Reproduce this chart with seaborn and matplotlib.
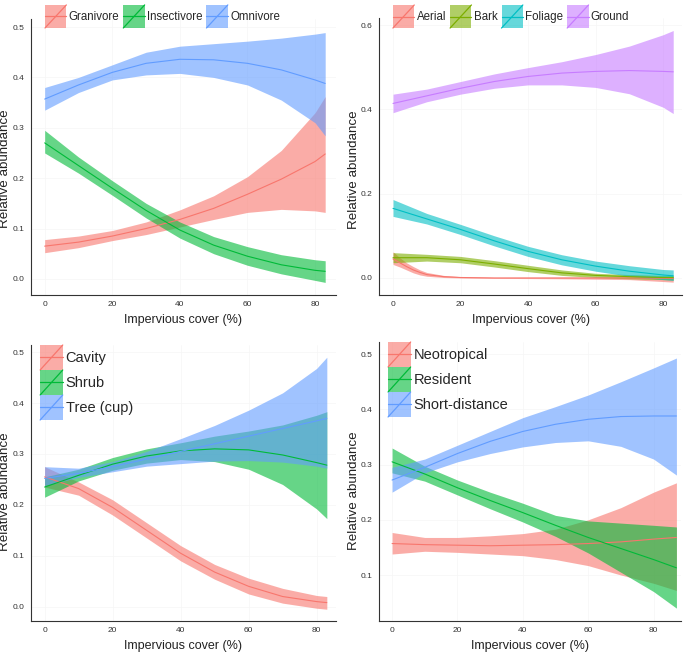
import numpy as np
import pandas as pd
import matplotlib.pyplot as plt
import seaborn as sns
from matplotlib.legend_handler import HandlerBase
from matplotlib.lines import Line2D
from matplotlib.patches import Rectangle

# ---- data: fitted line + confidence band ----
x1 = [0, 10, 20, 30, 40, 50, 60, 70, 80, 83]
gran_mid = [0.065, 0.073, 0.085, 0.100, 0.118, 0.140, 0.168, 0.198, 0.233, 0.248]
gran_lo = [0.052, 0.062, 0.076, 0.088, 0.103, 0.118, 0.132, 0.138, 0.135, 0.132]
gran_hi = [0.078, 0.085, 0.096, 0.113, 0.137, 0.165, 0.203, 0.255, 0.330, 0.362]
ins_mid = [0.270, 0.225, 0.180, 0.136, 0.097, 0.067, 0.045, 0.028, 0.017, 0.015]
ins_lo = [0.250, 0.210, 0.166, 0.121, 0.081, 0.050, 0.027, 0.010, -0.003, -0.007]
ins_hi = [0.295, 0.242, 0.195, 0.150, 0.113, 0.084, 0.064, 0.048, 0.038, 0.036]
omni_mid = [0.357, 0.385, 0.410, 0.428, 0.436, 0.435, 0.428, 0.415, 0.395, 0.388]
omni_lo = [0.335, 0.370, 0.395, 0.405, 0.408, 0.400, 0.385, 0.355, 0.310, 0.284]
omni_hi = [0.380, 0.400, 0.425, 0.450, 0.462, 0.467, 0.472, 0.478, 0.486, 0.489]

x2 = [0, 10, 20, 30, 40, 50, 60, 70, 80, 83]
x2_aerial = [0, 2, 4, 6, 8, 10, 15, 20, 30, 50, 70, 83]
aerial_mid = [0.045, 0.036, 0.027, 0.019, 0.013, 0.008, 0.003, 0.001, 0.0, 0.0, 0.0, -0.001]
aerial_lo = [0.032, 0.026, 0.019, 0.012, 0.007, 0.004, 0.001, 0.0, -0.001, -0.002, -0.004, -0.010]
aerial_hi = [0.062, 0.048, 0.036, 0.027, 0.019, 0.013, 0.006, 0.003, 0.001, 0.001, 0.002, 0.003]
bark_mid = [0.048, 0.048, 0.043, 0.033, 0.022, 0.012, 0.006, 0.003, 0.001, 0.001]
bark_lo = [0.036, 0.040, 0.036, 0.026, 0.015, 0.006, 0.001, -0.002, -0.004, -0.005]
bark_hi = [0.060, 0.056, 0.051, 0.041, 0.030, 0.019, 0.011, 0.008, 0.006, 0.006]
foli_mid = [0.165, 0.140, 0.115, 0.088, 0.063, 0.043, 0.028, 0.016, 0.007, 0.005]
foli_lo = [0.146, 0.128, 0.103, 0.076, 0.051, 0.031, 0.016, 0.004, -0.004, -0.006]
foli_hi = [0.186, 0.153, 0.127, 0.100, 0.075, 0.055, 0.040, 0.029, 0.020, 0.019]
ground_mid = [0.414, 0.432, 0.450, 0.466, 0.478, 0.486, 0.490, 0.492, 0.490, 0.489]
ground_lo = [0.392, 0.418, 0.436, 0.450, 0.458, 0.458, 0.452, 0.437, 0.405, 0.390]
ground_hi = [0.436, 0.448, 0.466, 0.484, 0.499, 0.513, 0.530, 0.550, 0.577, 0.587]

x3 = [0, 10, 20, 30, 40, 50, 60, 70, 80, 83]
cav_mid = [0.255, 0.232, 0.195, 0.150, 0.105, 0.068, 0.040, 0.020, 0.010, 0.008]
cav_lo = [0.235, 0.219, 0.180, 0.135, 0.090, 0.054, 0.025, 0.007, -0.003, -0.005]
cav_hi = [0.275, 0.245, 0.210, 0.165, 0.120, 0.083, 0.056, 0.036, 0.022, 0.020]
shrub_mid = [0.235, 0.258, 0.280, 0.296, 0.306, 0.310, 0.308, 0.298, 0.283, 0.278]
shrub_lo = [0.215, 0.247, 0.268, 0.282, 0.289, 0.285, 0.270, 0.240, 0.192, 0.173]
shrub_hi = [0.255, 0.270, 0.293, 0.310, 0.322, 0.335, 0.345, 0.357, 0.376, 0.383]
tree_mid = [0.252, 0.262, 0.275, 0.290, 0.305, 0.320, 0.335, 0.350, 0.365, 0.370]
tree_lo = [0.238, 0.254, 0.265, 0.276, 0.281, 0.286, 0.287, 0.284, 0.276, 0.272]
tree_hi = [0.275, 0.272, 0.285, 0.305, 0.330, 0.356, 0.386, 0.420, 0.468, 0.490]

x4 = [0, 10, 20, 30, 40, 50, 60, 70, 80, 87]
neo_mid = [0.157, 0.155, 0.154, 0.153, 0.154, 0.155, 0.157, 0.160, 0.165, 0.168]
neo_lo = [0.138, 0.143, 0.141, 0.138, 0.135, 0.128, 0.117, 0.100, 0.085, 0.072]
neo_hi = [0.177, 0.168, 0.168, 0.171, 0.175, 0.183, 0.200, 0.222, 0.250, 0.267]
res_mid = [0.305, 0.283, 0.258, 0.235, 0.213, 0.190, 0.168, 0.148, 0.128, 0.113]
res_lo = [0.285, 0.270, 0.245, 0.220, 0.196, 0.170, 0.140, 0.105, 0.070, 0.040]
res_hi = [0.330, 0.297, 0.272, 0.250, 0.230, 0.208, 0.198, 0.194, 0.190, 0.187]
sd_mid = [0.272, 0.295, 0.320, 0.342, 0.360, 0.373, 0.382, 0.387, 0.388, 0.388]
sd_lo = [0.250, 0.285, 0.305, 0.320, 0.332, 0.340, 0.343, 0.333, 0.310, 0.281]
sd_hi = [0.295, 0.310, 0.335, 0.360, 0.385, 0.405, 0.426, 0.450, 0.475, 0.493]

hue3 = ["#F8766D", "#00BA38", "#619CFF"]
hue4 = ["#F8766D", "#7CAE00", "#00BFC4", "#C77CFF"]

panels = [
    dict(series=[("Granivore", x1, gran_mid, gran_lo, gran_hi),
                 ("Insectivore", x1, ins_mid, ins_lo, ins_hi),
                 ("Omnivore", x1, omni_mid, omni_lo, omni_hi)],
         colors=hue3, yticks=[0.0, 0.1, 0.2, 0.3, 0.4, 0.5],
         pos=(31, 19, 336, 295), xlim=(-4.05, 86.2), ylim=(-0.032, 0.516),
         legend="top", leg_at=(0.046, 1.051), ylab_y=0.457),
    dict(series=[("Aerial", x2_aerial, aerial_mid, aerial_lo, aerial_hi),
                 ("Bark", x2, bark_mid, bark_lo, bark_hi),
                 ("Foliage", x2, foli_mid, foli_lo, foli_hi),
                 ("Ground", x2, ground_mid, ground_lo, ground_hi)],
         colors=hue4, yticks=[0.0, 0.2, 0.4, 0.6],
         pos=(379, 18, 682, 295), xlim=(-4.15, 85.6), ylim=(-0.0405, 0.6167),
         legend="top", leg_at=(0.046, 1.047), ylab_y=0.452),
    dict(series=[("Cavity", x3, cav_mid, cav_lo, cav_hi),
                 ("Shrub", x3, shrub_mid, shrub_lo, shrub_hi),
                 ("Tree (cup)", x3, tree_mid, tree_lo, tree_hi)],
         colors=hue3, yticks=[0.0, 0.1, 0.2, 0.3, 0.4, 0.5],
         pos=(31, 345, 336, 621), xlim=(-4.0, 85.7), ylim=(-0.0281, 0.514),
         legend="side", leg_at=(0.03, 1.0), ylab_y=0.467),
    dict(series=[("Neotropical", x4, neo_mid, neo_lo, neo_hi),
                 ("Resident", x4, res_mid, res_lo, res_hi),
                 ("Short-distance", x4, sd_mid, sd_lo, sd_hi)],
         colors=hue3, yticks=[0.1, 0.2, 0.3, 0.4, 0.5],
         pos=(379, 342, 681, 621), xlim=(-4.0, 88.4), ylim=(0.0167, 0.522),
         legend="side", leg_at=(0.03, 1.0), ylab_y=0.468),
]


class SmoothKey(HandlerBase):
    # ggplot-like key: filled box with a horizontal and a diagonal line
    def create_artists(self, legend, orig_handle, xdescent, ydescent,
                       width, height, fontsize, trans):
        c = orig_handle.get_color()
        x0, y0 = -xdescent, -ydescent
        box = Rectangle((x0, y0), width, height, facecolor=c, alpha=0.6,
                        edgecolor="none", transform=trans)
        h = Line2D([x0, x0 + width], [y0 + height / 2] * 2, color=c, lw=0.9,
                   transform=trans)
        d = Line2D([x0, x0 + width], [y0, y0 + height], color=c, lw=0.9,
                   transform=trans)
        return [box, h, d]


sns.set_theme(style="white")
plt.rcParams["font.family"] = ["Liberation Sans", "DejaVu Sans"]

W, H = 687, 655
fig = plt.figure(figsize=(W / 100, H / 100), dpi=100)

for p in panels:
    l, t, r, b = p["pos"]
    ax = fig.add_axes([l / W, 1 - b / H, (r - l) / W, (b - t) / H])

    rows = []
    for name, xs, mid, lo, hi in p["series"]:
        for xv, m, a, z in zip(xs, mid, lo, hi):
            rows.append((name, xv, m, a, z))
    df = pd.DataFrame(rows, columns=["group", "cover", "fit", "lo", "hi"])
    names = [s[0] for s in p["series"]]
    pal = dict(zip(names, p["colors"]))

    for name in names:
        g = df[df["group"] == name]
        ax.fill_between(g["cover"], g["lo"], g["hi"], color=pal[name],
                        alpha=0.6, linewidth=0, zorder=2)
        sns.lineplot(data=g, x="cover", y="fit", color=pal[name], lw=0.8,
                     ax=ax, zorder=3, legend=False)

    ax.set_xlim(*p["xlim"])
    ax.set_ylim(*p["ylim"])
    ax.set_xticks([0, 20, 40, 60, 80])
    ax.set_yticks(p["yticks"])
    ax.set_yticklabels([f"{v:.1f}" for v in p["yticks"]])
    ax.grid(True, which="major", color="#f6f6f6", lw=0.5)
    sns.despine(ax=ax)
    for s in ("left", "bottom"):
        ax.spines[s].set_color("#333333")
        ax.spines[s].set_linewidth(0.8)
    ax.tick_params(axis="both", which="major", labelsize=6, length=2.5,
                   width=0.6, colors="#555555", labelcolor="#333333", pad=2)
    ax.set_xlabel("Impervious cover (%)", fontsize=9, color="#222222", labelpad=4)
    ax.set_ylabel("Relative abundance", fontsize=9.6, color="#222222")
    ax.yaxis.set_label_coords(-0.064, p["ylab_y"])

    handles = [Line2D([], [], color=pal[n]) for n in names]
    if p["legend"] == "top":
        ax.legend(handles, names, handler_map={Line2D: SmoothKey()},
                  loc="upper left", bbox_to_anchor=p["leg_at"], ncol=len(names),
                  frameon=False, fontsize=8.3, borderpad=0, borderaxespad=0,
                  handlelength=1.85, handleheight=2.7, handletextpad=0.2,
                  columnspacing=0.35)
    else:
        ax.legend(handles, names, handler_map={Line2D: SmoothKey()},
                  loc="upper left", bbox_to_anchor=p["leg_at"], ncol=1,
                  frameon=False, fontsize=10.5, borderpad=0, borderaxespad=0,
                  handlelength=1.55, handleheight=2.26, handletextpad=0.2,
                  labelspacing=0.0)

fig.savefig("out.png", dpi=100)
